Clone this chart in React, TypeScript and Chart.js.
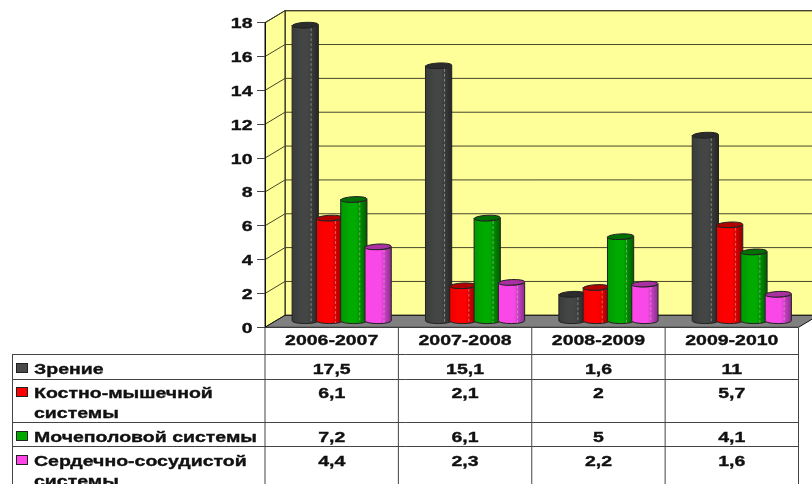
import React, { useEffect, useRef } from "react";
import { Chart, registerables } from "chart.js";

Chart.register(...registerables);

const periods = ["2006-2007", "2007-2008", "2008-2009", "2009-2010"];
const vision = [17.5, 15.1, 1.6, 11];
const musculoskeletal = [6.1, 2.1, 2, 5.7];
const genitourinary = [7.2, 6.1, 5, 4.1];
const cardiovascular = [4.4, 2.3, 2.2, 1.6];
const seriesLabels = ["Зрение", "Костно-мышечной\nсистемы", "Мочеполовой системы", "Сердечно-сосудистой\nсистемы"];
const yTicks = [0, 2, 4, 6, 8, 10, 12, 14, 16, 18];

const swatches = ["#4a4a4a", "#ff0000", "#00a800", "#ff44e8"];
const shades = [
  { left: "#3a3c3c", mid: "#444646", right: "#262626", top: "#2c2c2c" },
  { left: "#f00000", mid: "#ff0000", right: "#900000", top: "#b00000" },
  { left: "#009800", mid: "#00aa00", right: "#005c00", top: "#007000" },
  { left: "#ff44e8", mid: "#f848e8", right: "#84308a", top: "#a830a0" },
];

const DEPTH_X = 20;
const DEPTH_Y = 12;
const BAR_DX = 10;
const BAR_DY = 6;
const TABLE_LEFT = 12;
const ROW_LINES = [354, 379, 422, 446];
const FIRST_BASELINES = [374, 398, 442, 466];
const SECOND_BASELINES = [0, 418, 0, 486];
const HEADER_BASELINE = 345;
const STRETCH = 1.3;
const TEXT_FONT = "bold 15px 'Liberation Sans'";

function stretched(ctx: CanvasRenderingContext2D, text: string, x: number, y: number, align: CanvasTextAlign) {
  ctx.save();
  ctx.font = TEXT_FONT;
  ctx.fillStyle = "#111";
  ctx.strokeStyle = "#111";
  ctx.lineWidth = 0.35;
  ctx.textBaseline = "alphabetic";
  ctx.textAlign = align;
  ctx.translate(x, y);
  ctx.scale(STRETCH, 1);
  ctx.fillText(text, 0, 0);
  ctx.strokeText(text, 0, 0);
  ctx.restore();
}

const scenePlugin = {
  id: "scene",
  beforeDraw(chart: any) {
    const { ctx, chartArea: a } = chart;
    const yScale = chart.scales.y;
    ctx.save();
    ctx.fillStyle = "#ffff99";
    ctx.strokeStyle = "#111";
    ctx.lineWidth = 1;
    ctx.fillRect(a.left + DEPTH_X, a.top - DEPTH_Y, a.width, a.height);
    ctx.strokeRect(a.left + DEPTH_X, a.top - DEPTH_Y, a.width, a.height);
    ctx.beginPath();
    ctx.moveTo(a.left, a.top);
    ctx.lineTo(a.left + DEPTH_X, a.top - DEPTH_Y);
    ctx.lineTo(a.left + DEPTH_X, a.bottom - DEPTH_Y);
    ctx.lineTo(a.left, a.bottom);
    ctx.closePath();
    ctx.fill();
    ctx.stroke();
    ctx.strokeStyle = "#47472c";
    yScale.ticks.forEach((t: any) => {
      if (t.value === 0) return;
      const y = yScale.getPixelForValue(t.value);
      ctx.beginPath();
      ctx.moveTo(a.left, y);
      ctx.lineTo(a.left + DEPTH_X, y - DEPTH_Y);
      ctx.lineTo(a.right + DEPTH_X, y - DEPTH_Y);
      ctx.stroke();
    });
    ctx.fillStyle = "#808080";
    ctx.strokeStyle = "#111";
    ctx.beginPath();
    ctx.moveTo(a.left, a.bottom);
    ctx.lineTo(a.left + DEPTH_X, a.bottom - DEPTH_Y);
    ctx.lineTo(a.right + DEPTH_X, a.bottom - DEPTH_Y);
    ctx.lineTo(a.right, a.bottom);
    ctx.closePath();
    ctx.fill();
    ctx.stroke();
    ctx.restore();
  },
  beforeDatasetsDraw(chart: any) {
    const { ctx } = chart;
    chart.data.datasets.forEach((_: any, i: number) => {
      const s = shades[i];
      chart.getDatasetMeta(i).data.forEach((bar: any) => {
        const w = bar.width * 1.08;
        const cx = bar.x + BAR_DX;
        const rx = w / 2;
        const ry = 2.8;
        const left = cx - rx;
        const right = cx + rx;
        const top = bar.y - BAR_DY;
        const base = bar.base - BAR_DY;
        const g = ctx.createLinearGradient(left, 0, right, 0);
        g.addColorStop(0, s.left);
        g.addColorStop(0.35, s.mid);
        g.addColorStop(0.6, s.mid);
        g.addColorStop(1, s.right);
        ctx.save();
        ctx.beginPath();
        ctx.moveTo(left, top);
        ctx.lineTo(left, base);
        ctx.ellipse(cx, base, rx, ry, 0, Math.PI, 0, true);
        ctx.lineTo(right, top);
        ctx.ellipse(cx, top, rx, ry, 0, 0, Math.PI, false);
        ctx.closePath();
        ctx.fillStyle = g;
        ctx.fill();
        ctx.strokeStyle = "#222";
        ctx.lineWidth = 1;
        ctx.stroke();
        ctx.beginPath();
        ctx.setLineDash([3, 2]);
        ctx.strokeStyle = "rgba(205,205,190,0.5)";
        ctx.moveTo(left + w * 0.725, top + 3);
        ctx.lineTo(left + w * 0.725, base + 2);
        ctx.stroke();
        ctx.setLineDash([]);
        ctx.beginPath();
        ctx.ellipse(cx, top, rx, ry, -0.05, 0, Math.PI * 2);
        ctx.fillStyle = s.top;
        ctx.fill();
        ctx.strokeStyle = "#222";
        ctx.stroke();
        ctx.restore();
      });
    });
    return false;
  },
  afterDraw(chart: any) {
    const { ctx, chartArea: a } = chart;
    const xScale = chart.scales.x;
    const yScale = chart.scales.y;
    const h = chart.height;
    ctx.save();
    ctx.strokeStyle = "#444";
    ctx.lineWidth = 1;
    ctx.beginPath();
    ROW_LINES.forEach((y) => {
      ctx.moveTo(TABLE_LEFT, y + 0.5);
      ctx.lineTo(a.right, y + 0.5);
    });
    ctx.moveTo(TABLE_LEFT + 0.5, ROW_LINES[0]);
    ctx.lineTo(TABLE_LEFT + 0.5, h);
    const edges = [a.left, ...periods.map((_, i) => a.left + (a.width * (i + 1)) / periods.length)];
    edges.forEach((x) => {
      ctx.moveTo(x, a.bottom);
      ctx.lineTo(x, h);
    });
    ctx.stroke();

    yScale.ticks.forEach((t: any) => {
      stretched(ctx, String(t.value), 252.5, yScale.getPixelForValue(t.value) + 5.5, "right");
    });
    periods.forEach((label, k) => {
      stretched(ctx, label, xScale.getPixelForValue(k), HEADER_BASELINE, "center");
    });

    chart.data.datasets.forEach((ds: any, i: number) => {
      const lines = seriesLabels[i].split("\n");
      ctx.fillStyle = swatches[i];
      ctx.strokeStyle = "#222";
      ctx.fillRect(16.5, FIRST_BASELINES[i] - 10.5, 11, 9);
      ctx.strokeRect(16.5, FIRST_BASELINES[i] - 10.5, 11, 9);
      stretched(ctx, lines[0], 34, FIRST_BASELINES[i], "left");
      if (lines[1]) stretched(ctx, lines[1], 34, SECOND_BASELINES[i], "left");
      ds.data.forEach((v: number, k: number) => {
        stretched(ctx, String(v).replace(".", ","), xScale.getPixelForValue(k), FIRST_BASELINES[i], "center");
      });
    });
    ctx.restore();
  },
};

export default function App() {
  const ref = useRef<HTMLCanvasElement>(null);
  useEffect(() => {
    const chart = new Chart(ref.current!, {
      type: "bar",
      data: {
        labels: periods,
        datasets: [vision, musculoskeletal, genitourinary, cardiovascular].map((data, i) => ({
          label: seriesLabels[i].replace("\n", " "),
          data,
          backgroundColor: swatches[i],
        })),
      },
      plugins: [scenePlugin],
      options: {
        responsive: false,
        animation: false,
        layout: { padding: { top: 22.7, right: 13.5, left: 0, bottom: 0 } },
        plugins: { legend: { display: false }, tooltip: { enabled: false } },
        datasets: { bar: { categoryPercentage: 0.729, barPercentage: 1 } },
        scales: {
          x: {
            offset: true,
            grid: { display: false, drawTicks: false },
            border: { display: false },
            afterFit: (s: any) => { s.height = 484 - 327.3; },
            ticks: { display: false },
          },
          y: {
            min: 0,
            max: 18,
            afterFit: (s: any) => { s.width = 265; },
            afterBuildTicks: (s: any) => { s.ticks = yTicks.map((value) => ({ value })); },
            border: { display: true, color: "#111", width: 1 },
            grid: { drawOnChartArea: false, tickLength: 8, color: "#444" },
            ticks: { display: false },
          },
        },
      },
    } as any);
    return () => chart.destroy();
  }, []);
  return (
    <div style={{ position: "absolute", left: 0, top: 0, width: 812, height: 484, background: "#fff", overflow: "hidden" }}>
      <canvas ref={ref} width={812} height={484} style={{ display: "block" }} />
    </div>
  );
}
